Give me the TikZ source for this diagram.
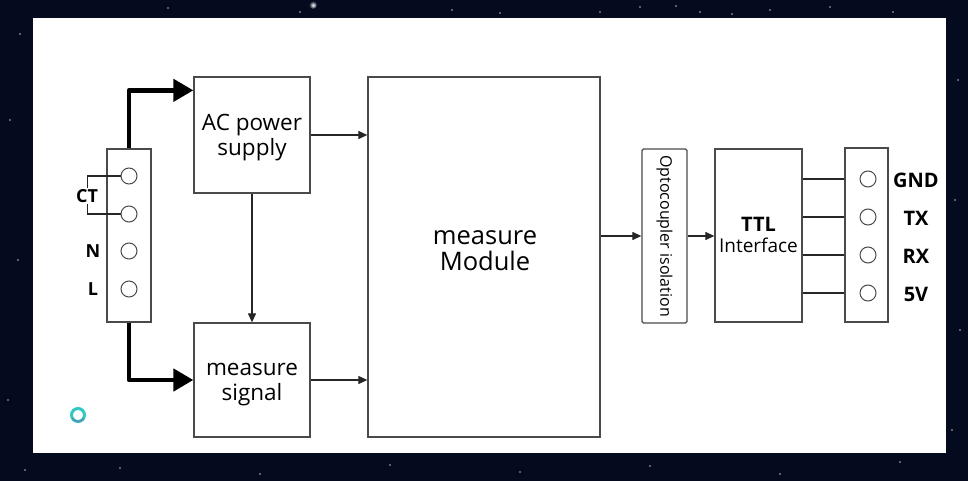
\documentclass[tikz,border=0pt]{standalone}
\usepackage{fontspec}
\setmainfont{Open Sans}
\usetikzlibrary{arrows.meta,calc}
\definecolor{night}{HTML}{050B1F}
\definecolor{boxline}{HTML}{4A4A4A}
\definecolor{ringteal}{HTML}{2EC9C0}
\definecolor{ringblue}{HTML}{5A8FB0}
\begin{document}
\begin{tikzpicture}[x=1pt,y=-1pt,
  blk/.style={draw=boxline,line width=1.3pt,fill=white,inner sep=0pt,align=center},
  term/.style={draw=boxline,line width=1pt,circle,minimum size=16pt,inner sep=0pt},
  thin/.style={draw=black!85,line width=1.2pt,-{Triangle[length=9pt,width=8pt]}},
  plain/.style={draw=black!85,line width=1.5pt},
  thick/.style={draw=black,line width=4.5pt,-{Triangle[length=20pt,width=22pt]}},
  lbl/.style={font=\fontsize{18}{20}\selectfont\bfseries,inner sep=1pt},
  rlbl/.style={font=\fontsize{20}{22}\selectfont\bfseries,inner sep=1pt},
  txt/.style={font=\fontsize{22.5}{25}\selectfont}
]
\useasboundingbox (0,0) rectangle (968,481);
\fill[night] (0,0) rectangle (968,481);
% stars
\foreach \p in {(168,8),(300,12),(313,5),(452,10),(500,13),(600,12),(640,7),(676,6),(700,12),(732,14),(770,10),(830,7),(893,12),(20,34),(10,120),(18,260),(8,400),(25,470),(120,468),(260,474),(390,465),(520,472),(650,466),(780,474),(900,462),(958,80),(955,200),(960,330),(952,430)}
  \fill[white,opacity=0.7] \p circle (0.9);
\shade[inner color=white,outer color=night] (313,5) circle (4);
\fill[white] (33,18) rectangle (946,453);
% blocks
\node[blk,minimum width=116pt,minimum height=116pt,txt] (ac) at (252,135) {};
\node[txt,align=center,inner sep=0pt] (actxt) at (252,138) {AC power\\supply};
\node[blk,minimum width=116pt,minimum height=114pt,txt] (sig) at (252,380) {};
\node[txt,align=center,inner sep=0pt] (sigtxt) at (252,385) {measure\\signal};
\node[blk,minimum width=232pt,minimum height=360pt] (mod) at (484,257) {};
\node[align=center,inner sep=0pt,font=\fontsize{25.5}{26}\selectfont] (modtxt) at (485,251) {measure\\Module};
\node[blk,rounded corners=1.5pt,minimum width=45pt,minimum height=174pt] (opto) at (664.5,236) {};
\node[rotate=-90,font=\fontsize{16}{18}\selectfont] (optotxt) at (opto.center) {Optocoupler isolation};
\node[blk,minimum width=87pt,minimum height=173pt] (ttl) at (758.5,235.5) {};
\node[font=\fontsize{20}{22}\selectfont\bfseries] (ttltxt) at (758.5,224) {TTL};
\node[font=\fontsize{19}{20}\selectfont] (ifctxt) at (758.5,245) {Interface};
% left terminal block
\node[blk,minimum width=44pt,minimum height=173pt] (lb) at (129,235.5) {};
\node[term] (l1) at (129,176) {};
\node[term] (l2) at (129,214) {};
\node[term] (l3) at (129,251) {};
\node[term] (l4) at (129,289) {};
\draw[plain,line width=1.2pt] (l1.west) -- ++(-33,0) coordinate (ctb) |- (l2.west);
\node[lbl,fill=white] (ct) at (87,196) {CT};
\node[lbl] (nl) at (93,251) {N};
\node[lbl] (ll) at (93,289) {L};
% right terminal block
\node[blk,minimum width=43pt,minimum height=174pt] (rb) at (866.5,235) {};
\node[term] (r1) at (868,179) {};
\node[term] (r2) at (868,217) {};
\node[term] (r3) at (868,255) {};
\node[term] (r4) at (868,293) {};
\node[rlbl] (gnd) at (916,180) {GND};
\node[rlbl] (tx) at (916,218) {TX};
\node[rlbl] (rx) at (916,256) {RX};
\node[rlbl] (fv) at (916,294) {5V};
\foreach \r in {r1,r2,r3,r4}
  \draw[plain] (ttl.east |- \r) -- (rb.west |- \r);
% connectors
\draw[thick,line join=round] (lb.north) |- ([yshift=-14pt]ac.north west);
\draw[thick,line join=round] (lb.south) |- (sig.west);
\draw[thin] (ac.south) -- (sig.north);
\draw[thin] (ac.east) -- (ac.east -| mod.west);
\draw[thin] (sig.east) -- (sig.east -| mod.west);
\draw[thin] (opto.west -| mod.east) -- (opto.west);
\draw[thin] (opto.east) -- (opto.east -| ttl.west);
% small ring
\draw[line width=3pt,ringteal] (78,415) circle (6.5);
\draw[line width=1.5pt,ringblue] (78,415) ++(150:6.5) arc (150:30:6.5);
\end{tikzpicture}
\end{document}
